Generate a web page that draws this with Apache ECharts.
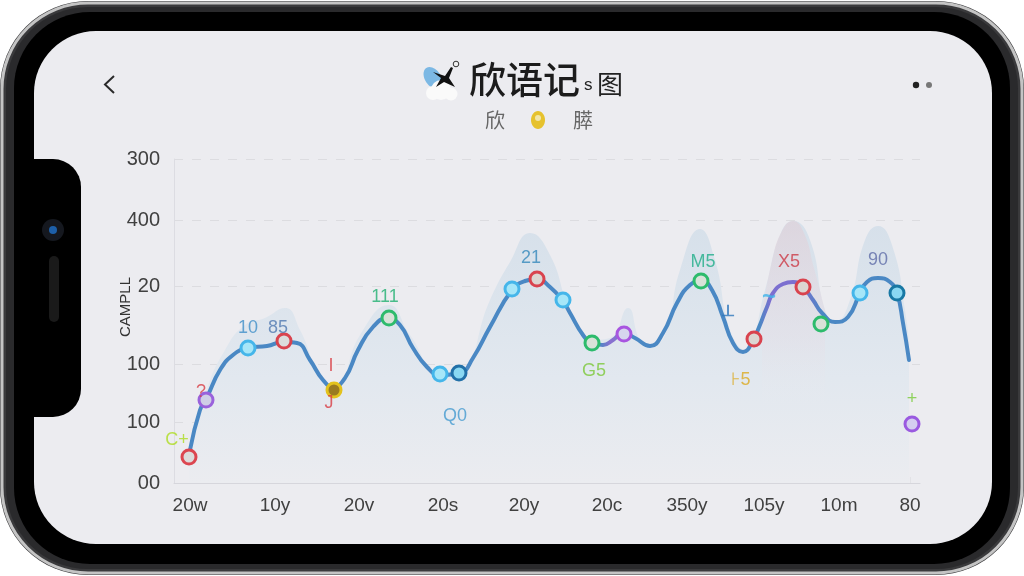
<!DOCTYPE html>
<html><head><meta charset="utf-8">
<style>html,body{margin:0;padding:0;background:#fff}#c{width:1024px;height:576px}</style>
<script src="https://cdn.jsdelivr.net/npm/echarts@6/dist/echarts.min.js"></script>
</head><body><div id="c"></div>
<script>
const yTickValues=[0,61,119,197,263,324];
const yTickLabels=['00','100','100','20','400','300'];
const xTickValues=[16,101,185,269,350,433,513,590,665,736];
const xTickLabels=['20w','10y','20v','20s','20y','20c','350y','105y','10m','80'];
const lineX=[16,26,33,46,59,74,93,109,123,136,149,159,171,184,199,214,226,239,253,266,286,299,316,338,351,363,376,389,396,409,418,429,439,449,461,476,489,503,516,528,538,549,559,569,579,593,599,609,619,629,639,648,661,674,686,693,704,716,723,729,735];
const lineY=[33,73,86,113,128,135,137,141,140,123,103,96,105,133,156,165,158,135,116,108,110,125,156,193,202,204,196,182,170,148,140,138,143,150,145,137,150,180,198,202,193,166,140,131,143,176,190,199,201,196,183,170,161,166,190,201,205,201,190,160,123];
const areaX=[15,32,51,71,91,111,126,146,161,186,215,236,266,286,316,336,356,376,396,416,436,454,466,476,491,506,526,541,556,571,591,606,619,636,651,661,676,691,704,718,731,735];
const areaY=[27,91,133,158,165,175,153,108,97,148,178,148,111,113,183,221,250,228,173,143,145,175,143,138,148,213,254,223,153,133,193,248,262,243,173,161,183,243,257,238,173,123];
const tintX=[588,598,608,619,630,640,651];
const tintY=[170,222,252,262,250,215,173];
const pointX=[15,32,74,110,160,215,266,285,338,363,389,418,450,527,580,629,647,686,723,738];
const pointY=[26,83,135,142,93,165,109,110,194,204,183,140,149,202,144,196,159,190,190,59];
const pointEdge=['#dc4650','#9a62dc','#45b6ea','#d9434e','#e3c21c','#2dbb6c','#45b6ea','#2270a8','#45b6ea','#d9434e','#45b6ea','#2dbb6c','#a855e0','#2dbb6c','#d9434e','#d9434e','#2dbb6c','#45b6ea','#1878a4','#9a5ae0'];
const pointFill=['#dcdcdc','#cfcfe6','#a6e6f8','#dcdcdc','#9a7a20','#d8e2d8','#a6e6f8','#8ad8f2','#a6e6f8','#dcd6d2','#a6e6f8','#d8e2d8','#d6d6ee','#d8e2d8','#dcd6d2','#dcd6d2','#d8e2d8','#a6e6f8','#8ad8f2','#d4cef0'];
const noteText=['10','85','111','21','M5','X5','90','Q0','G5','⊦5','C+','+','?','I','J','~','⟂'];
const noteX=[74,104,211,357,529,615,704,281,420,567,3,738,27,157,155,595,554];
const noteY=[155,155,186,225,221,221,223,67,112,103,43,84,91,117,80,186,171];
const noteColor=['#3f8fc8','#4f78b0','#20b070','#3488bc','#1fae88','#cc3a46','#5e6ca8','#449ad0','#7cc838','#dcaa20','#aedc20','#78cc38','#d83c44','#d83c44','#d83c44','#40b4ea','#3078bc'];
const yName='CAMPLL';

const chart=echarts.init(document.getElementById('c'),null,{renderer:'canvas'});
const zip=(a,b)=>a.map((v,i)=>[v,b[i]]);
const CJK='"Noto Sans CJK SC",sans-serif';
const LAT='"Liberation Sans",Arial,sans-serif';
const deco=[
 {type:'rect',z:-20,shape:{x:0,y:1,width:1024,height:574,r:88},style:{fill:'#3a3a3c'}},
 {type:'rect',z:-19,shape:{x:2,y:3,width:1020,height:570,r:86},style:{fill:'none',stroke:'#c4c4c4',lineWidth:3}},
 {type:'rect',z:-18,shape:{x:6,y:7,width:1012,height:562,r:82},style:{fill:'#2a2a2c'}},
 {type:'rect',z:-17,shape:{x:14,y:12,width:996,height:552,r:76},style:{fill:'#000'}},
 {type:'rect',z:-16,shape:{x:34,y:31,width:958,height:513,r:62},style:{fill:'#ececf0'}},
 {type:'rect',z:-15,shape:{x:20,y:159,width:61,height:258,r:[0,28,28,0]},style:{fill:'#000'}},
 {type:'circle',z:-14,shape:{cx:53,cy:230,r:11},style:{fill:'#15181f'}},
 {type:'circle',z:-14,shape:{cx:53,cy:230,r:4},style:{fill:'#1d5fa8'}},
 {type:'rect',z:-14,shape:{x:49,y:256,width:10,height:66,r:5},style:{fill:'#1a1a1a'}},
 {type:'polyline',z:5,shape:{points:[[114,76],[105,84.5],[114,93]]},style:{fill:'none',stroke:'#2a2a2a',lineWidth:2}},
 {type:'circle',z:5,shape:{cx:916,cy:85,r:3.2},style:{fill:'#222'}},
 {type:'circle',z:5,shape:{cx:929,cy:85,r:3},style:{fill:'#777'}},
 // logo
 {type:'ellipse',z:5,shape:{cx:433,cy:78,rx:8,ry:12},rotation:0.6,originX:433,originY:78,style:{fill:'#7cb8e4'}},
 {type:'circle',z:5,shape:{cx:433,cy:93,r:7},style:{fill:'#fafafa'}},
 {type:'circle',z:5,shape:{cx:441,cy:90,r:10},style:{fill:'#fafafa'}},
 {type:'circle',z:5,shape:{cx:451,cy:94,r:6.5},style:{fill:'#fafafa'}},
 {type:'polygon',z:6,shape:{points:[[433,72],[445,76],[451,67],[453,68],[449,78],[455,87],[444,82],[436,87],[441,78]]},style:{fill:'#111'}},
 {type:'circle',z:6,shape:{cx:456,cy:64,r:2.8},style:{fill:'#eee',stroke:'#333',lineWidth:1}},
 {type:'text',z:5,style:{x:469,y:80,text:'欣语记',font:'500 37px '+CJK,fill:'#1c1c1c',verticalAlign:'middle'}},
 {type:'text',z:5,style:{x:584,y:85,text:'s',font:'17px '+LAT,fill:'#222',verticalAlign:'middle'}},
 {type:'text',z:5,style:{x:597,y:84,text:'图',font:'26px '+CJK,fill:'#222',verticalAlign:'middle'}},
 {type:'text',z:5,style:{x:485,y:120,text:'欣',font:'20px '+CJK,fill:'#666',verticalAlign:'middle'}},
 {type:'text',z:5,style:{x:573,y:120,text:'膵',font:'20px '+CJK,fill:'#666',verticalAlign:'middle'}},
 {type:'ellipse',z:5,shape:{cx:538,cy:120,rx:7,ry:9},style:{fill:'#e6c22e'}},
 {type:'circle',z:6,shape:{cx:538,cy:118,r:3},style:{fill:'#f2e6a8'}}
];
const lineGrad=new echarts.graphic.LinearGradient(174,0,920,0,[
 {offset:0,color:'#4a88c4'},{offset:0.57,color:'#4a88c4'},{offset:0.585,color:'#8a70d0'},{offset:0.6,color:'#7a78cc'},{offset:0.615,color:'#4a88c4'},
 {offset:0.785,color:'#4a88c4'},{offset:0.8,color:'#7c6fd0'},{offset:0.84,color:'#7c6fd0'},{offset:0.87,color:'#4a88c4'},{offset:1,color:'#4a88c4'}],true);
chart.setOption({
 animation:false,
 backgroundColor:'transparent',
 graphic:{elements:deco},
 grid:{left:174,right:104,top:159,bottom:93,containLabel:false},
 xAxis:{type:'value',min:0,max:746,
  axisLine:{show:true,lineStyle:{color:'#d6d6dc',width:1}},
  axisTick:{show:true,inside:true,length:6,customValues:xTickValues,lineStyle:{color:'#e2e2e6'}},
  splitLine:{show:false},
  axisLabel:{customValues:xTickValues,margin:13,fontFamily:LAT,fontSize:19,color:'#404040',
   formatter:v=>xTickLabels[xTickValues.indexOf(v)]}},
 yAxis:{type:'value',min:0,max:324,name:yName,nameLocation:'middle',nameGap:41,nameRotate:90,nameMoveOverlap:false,
  nameTextStyle:{fontFamily:LAT,fontSize:15,color:'#333',padding:[0,0,0,28]},
  axisLine:{show:true,lineStyle:{color:'#dcdce2',width:1}},
  axisTick:{show:false,customValues:yTickValues},
  splitLine:{show:true,lineStyle:{color:'#dcdce0',type:[9,9],width:1}},
  axisLabel:{customValues:yTickValues,margin:14,fontFamily:LAT,fontSize:20,color:'#404040',
   formatter:v=>yTickLabels[yTickValues.indexOf(v)]}},
 series:[
  {type:'line',name:'area',data:zip(areaX,areaY).concat([[735,0]]),smooth:0.5,showSymbol:false,symbol:'none',lineStyle:{width:0},z:1,silent:true,
   areaStyle:{opacity:1,color:new echarts.graphic.LinearGradient(0,0,0,1,[{offset:0,color:'#d6e0ea'},{offset:0.6,color:'#e2e8ef'},{offset:1,color:'#ebecf0'}])}},
  {type:'line',name:'tint',data:zip(tintX,tintY),smooth:0.5,showSymbol:false,symbol:'none',lineStyle:{width:0},z:1,silent:true,
   areaStyle:{opacity:1,color:new echarts.graphic.LinearGradient(0,0,0,1,[{offset:0,color:'rgba(224,208,216,0.65)'},{offset:0.45,color:'rgba(232,218,226,0.3)'},{offset:0.72,color:'rgba(236,236,240,0)'},{offset:1,color:'rgba(236,236,240,0)'}])}},
  {type:'line',name:'curve',data:zip(lineX,lineY),smooth:0.5,showSymbol:false,symbol:'none',z:3,silent:true,
   lineStyle:{color:lineGrad,width:4,cap:'round',join:'round'}},
  {type:'scatter',name:'points',clip:false,z:4,symbolSize:14,silent:true,
   data:pointX.map((x,i)=>({value:[x,pointY[i]],itemStyle:{color:pointFill[i],borderColor:pointEdge[i],borderWidth:3,opacity:1}}))},
  {type:'scatter',name:'notes',clip:false,z:5,symbolSize:0,silent:true,
   data:noteText.map((t,i)=>({value:[noteX[i],noteY[i]],label:{show:true,position:'inside',formatter:t,fontFamily:LAT,fontSize:i===15?24:18,color:noteColor[i],fontWeight:i>=15?'bold':'normal'}}))}
 ]
});
</script></body></html>
